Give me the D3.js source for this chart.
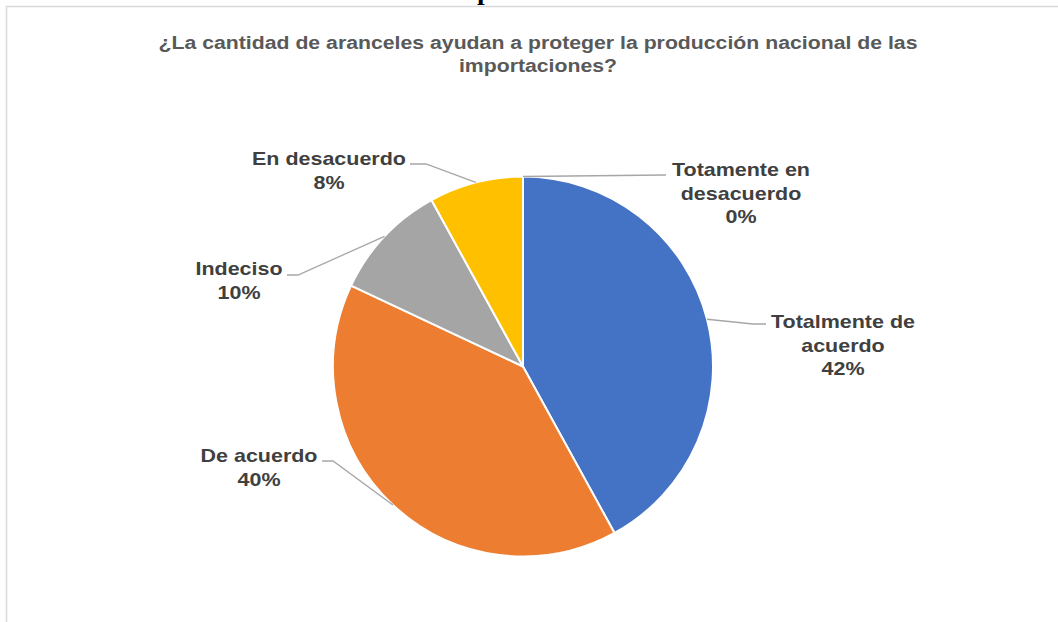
<!DOCTYPE html>
<html>
<head>
<meta charset="utf-8">
<script src="https://cdn.jsdelivr.net/npm/d3@7"></script>
<style>
  body { margin: 0; background: #fff; }
  text { font-family: "Liberation Sans", Arial, sans-serif; font-weight: bold; }
</style>
</head>
<body>
<div id="vis"></div>
<script>
// chart data
var categories = ['Totalmente de acuerdo', 'De acuerdo', 'Indeciso', 'En desacuerdo', 'Totamente en desacuerdo'];
var values = [42, 40, 10, 8, 0];
var colors = ['#4472C4', '#ED7D31', '#A5A5A5', '#FFC000', '#5B9BD5'];
var titleLines = ['¿La cantidad de aranceles ayudan a proteger la producción nacional de las', 'importaciones?'];

var width = 1058, height = 622;
var sx = 1.13; // the picture is stretched a little horizontally

// label layout: centre x, first baseline, wrap width, line end, elbow x
var labelLayout = [
    { x: 843, y: 328, wrap: 150, end: [766, 324], elbow: 753 },
    { x: 259, y: 462, wrap: 200, end: [322, 461], elbow: 333 },
    { x: 239, y: 275, wrap: 200, end: [287, 275], elbow: 298 },
    { x: 329, y: 165, wrap: 200, end: [410, 164], elbow: 426 },
    { x: 741, y: 176, wrap: 150, end: [666, 175], elbow: 666 }
];

var svg = d3.select('#vis').append('svg')
    .attr('width', width)
    .attr('height', height);

function stretch(k) {
    return function(sel) {
        sel.each(function() {
            var w = this.getComputedTextLength();
            d3.select(this).attr('textLength', w * k).attr('lengthAdjust', 'spacingAndGlyphs');
        });
    };
}

// bit of a previous title peeking in above the frame
svg.append('text')
    .attr('x', 477)
    .attr('y', 0)
    .style('font-family', '"Liberation Serif", "Times New Roman", serif')
    .style('font-size', '24.5px')
    .style('fill', '#000')
    .text('portaciones?')
    .call(stretch(sx));

// chart frame
svg.append('rect')
    .attr('x', 6.5)
    .attr('y', 6.5)
    .attr('width', width + 20)
    .attr('height', height + 20)
    .attr('fill', 'none')
    .attr('stroke', '#D9D9D9')
    .attr('stroke-width', 1.5);

// title
svg.selectAll('.title')
    .data(titleLines)
    .enter().append('text')
    .attr('class', 'title')
    .attr('x', 538)
    .attr('y', function(d, i) { return 48.5 + i * 23.5; })
    .attr('text-anchor', 'middle')
    .style('font-size', '18px')
    .style('fill', '#595959')
    .text(function(d) { return d; })
    .call(stretch(1.18));

var cx = 523, cy = 366.5, radius = 190;

var pie = d3.pie().sort(null).value(function(d) { return d; });
var arcs = pie(values);
var arc = d3.arc().innerRadius(0).outerRadius(radius);

var g = svg.append('g').attr('transform', 'translate(' + cx + ',' + cy + ')');

g.selectAll('path')
    .data(arcs)
    .enter().append('path')
    .attr('d', arc)
    .attr('fill', function(d, i) { return colors[i]; })
    .attr('stroke', '#fff')
    .attr('stroke-width', 2)
    .attr('stroke-linejoin', 'round');

// leader lines
var lines = svg.append('g');
arcs.forEach(function(d, i) {
    var mid = (d.startAngle + d.endAngle) / 2;
    var px = cx + radius * Math.sin(mid);
    var py = cy - radius * Math.cos(mid);
    var L = labelLayout[i];
    lines.append('polyline')
        .attr('points', [[px, py], [L.elbow, L.end[1]], L.end].map(function(p) { return p.join(','); }).join(' '))
        .attr('fill', 'none')
        .attr('stroke', '#A6A6A6')
        .attr('stroke-width', 1.3);
});

// wrap category names into lines that fit
function wrapWords(text, maxW) {
    var probe = svg.append('text').style('font-size', '19px');
    var words = text.split(' '), out = [], cur = '';
    words.forEach(function(w) {
        var trial = cur ? cur + ' ' + w : w;
        probe.text(trial);
        if (cur && probe.node().getComputedTextLength() * sx > maxW) {
            out.push(cur);
            cur = w;
        } else {
            cur = trial;
        }
    });
    out.push(cur);
    probe.remove();
    return out;
}

var labels = svg.append('g');
arcs.forEach(function(d, i) {
    var L = labelLayout[i];
    var rows = wrapWords(categories[i], L.wrap).concat([values[i] + '%']);
    labels.selectAll('.lab' + i)
        .data(rows)
        .enter().append('text')
        .attr('class', 'lab' + i)
        .attr('x', L.x)
        .attr('y', function(r, j) { return L.y + j * 23.5; })
        .attr('text-anchor', 'middle')
        .style('font-size', '19px')
        .style('fill', '#404040')
        .text(function(r) { return r; })
        .call(stretch(sx));
});
</script>
</body>
</html>
